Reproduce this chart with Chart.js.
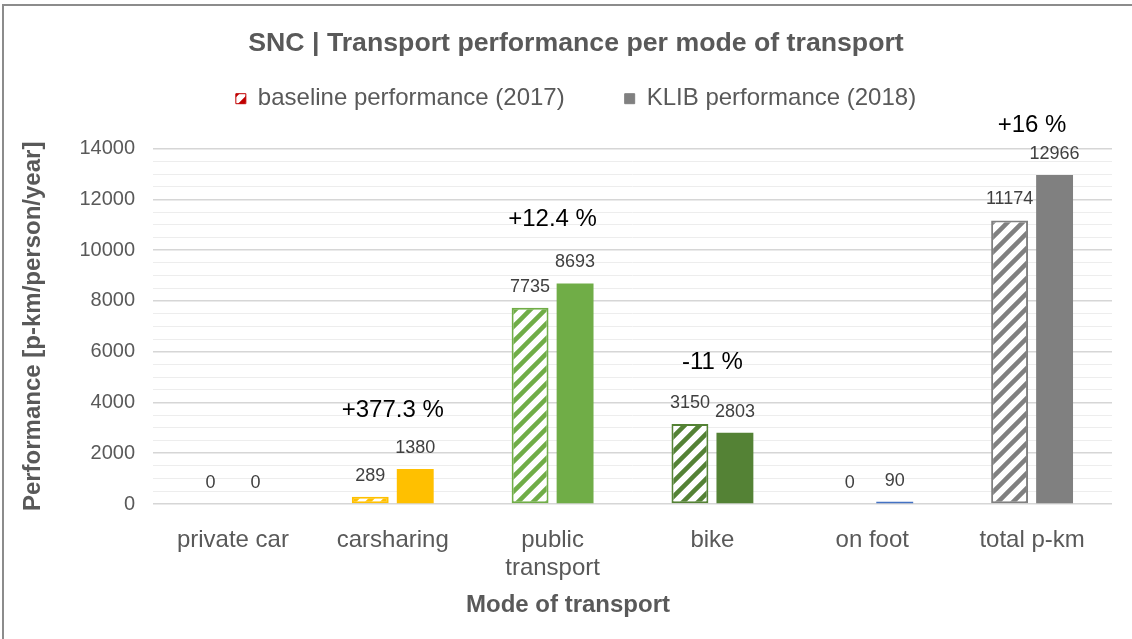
<!DOCTYPE html>
<html>
<head>
<meta charset="utf-8">
<title>SNC | Transport performance per mode of transport</title>
<script src="https://cdn.jsdelivr.net/npm/chart.js@4.4.1/dist/chart.umd.min.js"></script>
<style>
  html, body { margin: 0; padding: 0; background: #fff; overflow: hidden; }
  #wrap { position: relative; width: 1132px; height: 639px; }
  #frame { position: absolute; left: 2px; top: 4px; width: 1200px; height: 700px;
           border: 2px solid #8c8c8c; pointer-events: none; }
</style>
</head>
<body>
<div id="wrap">
  <canvas id="chart1" width="1132" height="639"></canvas>
  <div id="frame"></div>
</div>
<script>
// Data
const categories = ["private car", "carsharing", ["public", "transport"], "bike", "on foot", "total p-km"];
const baseline2017 = [0, 289, 7735, 3150, 0, 11174];
const klib2018 = [0, 1380, 8693, 2803, 90, 12966];
const changeLabels = ["", "+377.3 %", "+12.4 %", "-11 %", "", "+16 %"];
const changeLabelAt = [null, 3700, 11200, 5600, null, 14900];  // value where the change text sits
const majorTickStep = 2000;

const modeColors = ["#C00000", "#FFC000", "#70AD47", "#548235", "#4472C4", "#808080"];
const FONT = "'Liberation Sans', Arial, sans-serif";

Chart.defaults.font.family = FONT;
Chart.defaults.color = "#595959";

const canvas = document.getElementById("chart1");
const ctx1 = canvas.getContext("2d");

// White fill with diagonal stripes, like the Excel pattern fill
function hatch(color) {
  const s = 15;
  const c = document.createElement("canvas");
  c.width = s; c.height = s;
  const g = c.getContext("2d");
  g.fillStyle = "#fff";
  g.fillRect(0, 0, s, s);
  g.strokeStyle = color;
  g.lineWidth = 4.5;
  g.beginPath();
  g.moveTo(0, s); g.lineTo(s, 0);
  g.moveTo(-s / 2, s / 2); g.lineTo(s / 2, -s / 2);
  g.moveTo(s / 2, s * 1.5); g.lineTo(s * 1.5, s / 2);
  g.stroke();
  return ctx1.createPattern(c, "repeat");
}

// Value labels, change annotations and the x axis title
const labelsPlugin = {
  id: "labelsPlugin",
  beforeLayout(chart) {
    const lg = chart.legend;
    if (lg && !lg._patched) {
      const orig = lg.fit;
      lg.fit = function () { orig.call(this); this.height = 122; };
      lg._patched = true;
    }
  },
  afterDatasetsDraw(chart) {
    const ctx = chart.ctx;
    ctx.save();
    ctx.textAlign = "center";
    ctx.textBaseline = "middle";
    ctx.font = "18px " + FONT;
    ctx.fillStyle = "#404040";
    chart.data.datasets.forEach((ds, i) => {
      chart.getDatasetMeta(i).data.forEach((bar, j) => {
        ctx.fillText(String(ds.data[j]), bar.x, bar.y - 21);
      });
    });
    const xs = chart.scales.x, ys = chart.scales.y;
    ctx.font = "24px " + FONT;
    ctx.fillStyle = "#000";
    changeLabels.forEach((t, j) => {
      if (t) ctx.fillText(t, xs.getPixelForValue(j), ys.getPixelForValue(changeLabelAt[j]));
    });
    ctx.font = "bold 24px " + FONT;
    ctx.fillStyle = "#595959";
    ctx.fillText("Mode of transport", chart.width / 2 + 2, chart.height - 34);
    ctx.restore();
  }
};

const chart1 = new Chart(ctx1, {
  type: "bar",
  data: {
    labels: categories,
    datasets: [
      {
        label: "baseline performance (2017)",
        data: baseline2017,
        backgroundColor: modeColors.map(hatch),
        borderColor: modeColors,
        borderWidth: 2,
        borderSkipped: false,
        categoryPercentage: 0.563,
        barPercentage: 0.82,
        yAxisID: "y"
      },
      {
        label: "KLIB performance (2018)",
        data: klib2018,
        backgroundColor: modeColors,
        borderWidth: 0,
        categoryPercentage: 0.563,
        barPercentage: 0.82,
        yAxisID: "y"
      }
    ]
  },
  options: {
    responsive: false,
    animation: false,
    layout: { padding: { left: 20, right: 0, top: 0, bottom: 0 } },
    plugins: {
      title: {
        display: true,
        text: "SNC | Transport performance per mode of transport",
        color: "#595959",
        font: { size: 26.7, weight: "bold", lineHeight: 1 },
        padding: { top: 30, bottom: -30 }
      },
      legend: {
        display: true,
        labels: {
          color: "#595959",
          font: { size: 24 },
          boxWidth: 10,
          boxHeight: 10,
          padding: 60,
          generateLabels: (chart) => chart.data.datasets.map((ds, i) => ({
            text: ds.label,
            fillStyle: i === 0 ? hatch(modeColors[0]) : "#808080",
            strokeStyle: i === 0 ? modeColors[0] : "#808080",
            lineWidth: 1,
            fontColor: "#595959",
            hidden: false,
            datasetIndex: i
          }))
        }
      },
      tooltip: { enabled: false }
    },
    scales: {
      x: {
        grid: { display: false },
        border: { display: false },
        ticks: {
          color: "#595959",
          font: { size: 24, lineHeight: 1.1667 },
          padding: 14,
          maxRotation: 0,
          autoSkip: false
        },
        afterFit: (s) => { s.height = 135; }
      },
      y: {
        min: 0,
        max: 14000,
        border: { display: false },
        grid: {
          drawTicks: false,
          color: (c) => (c.tick.value % majorTickStep === 0 ? "#d6d6d6" : "#ededed"),
          lineWidth: (c) => (c.tick.value % majorTickStep === 0 ? 1.5 : 1)
        },
        ticks: {
          stepSize: 500,
          autoSkip: false,
          padding: 18,
          color: "#595959",
          font: { size: 20 },
          callback: (v) => (v % majorTickStep === 0 ? String(v) : "")
        },
        title: {
          display: true,
          text: "Performance [p-km/person/year]",
          color: "#595959",
          font: { size: 24, weight: "bold", lineHeight: 1 },
          padding: { top: 1, bottom: 0 }
        },
        afterFit: (s) => { s.width = 133; }
      },
      yRight: {
        position: "right",
        display: true,
        grid: { display: false },
        border: { display: false },
        ticks: { display: false },
        afterFit: (s) => { s.width = 20; }
      }
    }
  },
  plugins: [labelsPlugin]
});
</script>
</body>
</html>
